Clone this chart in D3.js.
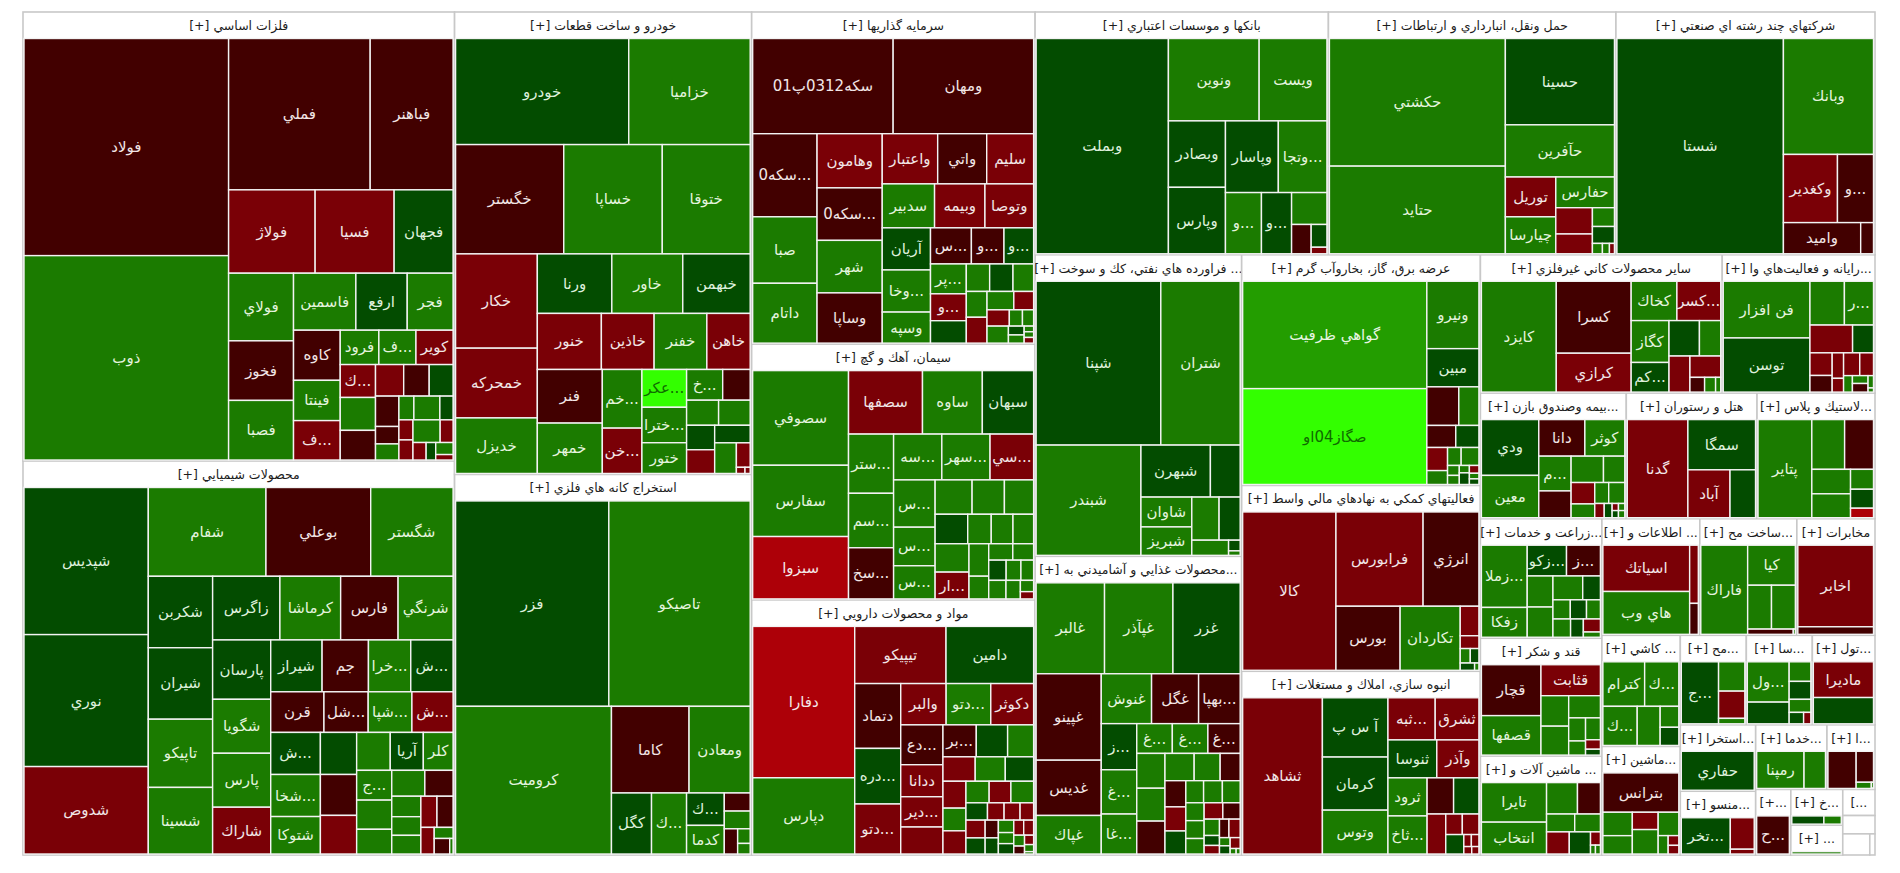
<!DOCTYPE html>
<html lang="fa">
<head>
<meta charset="utf-8">
<title>Market map</title>
<script src="https://cdn.jsdelivr.net/npm/d3@7/dist/d3.min.js"></script>
<style>
html,body{margin:0;padding:0;background:#fff;overflow:hidden}
svg{display:block}
text{font-family:"DejaVu Sans",sans-serif;direction:rtl;text-anchor:middle;dominant-baseline:central}
</style>
</head>
<body>
<svg id="chart" width="1900" height="873"></svg>
<script>
const sectorNames = [
"فلزات اساسي [+]","محصولات شيميايي [+]","خودرو و ساخت قطعات [+]","استخراج كانه هاي فلزي [+]",
"سرمايه گذاريها [+]","سيمان، آهك و گچ [+]","مواد و محصولات دارويي [+]","بانكها و موسسات اعتباري [+]",
"حمل ونقل، انبارداري و ارتباطات [+]","شركتهاي چند رشته اي صنعتي [+]","... فراورده هاي نفتي، كك و سوخت [+]","...محصولات غذايي و آشاميدني به [+]",
"عرضه برق، گاز، بخاروآب گرم [+]","فعاليتهاي كمكي به نهادهاي مالي واسط [+]","انبوه سازي، املاك و مستغلات [+]","ساير محصولات كاني غيرفلزي [+]",
"...رايانه و فعاليت‌هاي وا [+]","...بيمه وصندوق بازن [+]","هتل و رستوران [+]","...لاستيك و پلاس [+]",
"...زراعت و خدمات [+]","... اطلاعات و [+]","...ساخت مح [+]","مخابرات [+]",
"قند و شكر [+]","... ماشين آلات و [+]","... كاشي [+]","...ماشين [+]",
"...مح [+]","...سا [+]","...تول [+]","...استخرا [+]",
"...منسو [+]","...خدما [+]","...ا [+]","...+]","...خ [+]","... [+]","...]","","",""
];
const sectorValues = [1935,1698,1372,1129,940,724,722,711,697,628,622,616,550,443,438,334,211,183,164,148,145,114,113,91,143,120,87,85,59,59,56,50,48,46,31,23,18.5,15.5,8.4,5.9,5.7,1.1];

const tileLabels = [
["فولاد","ذوب","فملي","فباهنر","فولاژ","فسيا","فجهان","فولاي","فخوز","فصبا","فاسمين","ارفع","فجر","كاوه","فينتا","...ف","فرود","...ف","كوير","...ك"],
["شپديس","نوري","شدوص","شفام","بوعلي","شگستر","شكربن","شيران","تاپيكو","شسينا","زاگرس","كرماشا","فارس","شرنگي","پارسان","شگويا","پارس","شاراك","شيراز","جم","...خرا","...ش","قرن","...شل","...شپا","...ش","...ش","...شخا","شتوكا","","","","","آريا","كلر","...ج"],
["خودرو","خزاميا","خگستر","خساپا","ختوقا","خكار","خمحركه","خديزل","ورنا","خاور","خبهمن","خنور","خاذين","خفنر","خاهن","فنر","خمهر","...خم","...خن","...عكر","...خترا","ختور","...خ"],
["فزر","تاصيكو","كروميت","كاما","ومعادن","كگل","...ك","...ك","كدما"],
["سكه0312پ01","ومهان","...سكه0","صبا","داتام","وهامون","...سكه0","شهر","وساپا","واعتبار","واتي","سليم","سدبير","وبيمه","وتوصا","آريان","...وخا","وسپه","...س","...و","...و","...پر","...و"],
["سصوفي","سفارس","سبزوا","سصفها","ساوه","سبهان","...ستر","...سم","...سخ","...سه","...سهر","...سي","...س","...س","...س","","","","","","","","","...ار"],
["دفارا","دپارس","تيپيكو","دامين","دتماد","...دره","...دتو","والبر","...دتو","دكوثر","...دع","ددانا","...دير","","...بر"],
["وبملت","ونوين","ويست","وبصادر","وپارس","وپاسار","...وتجا","...و","...و"],
["حكشتي","حتايد","حسينا","حآفرين","توريل","چيارسا","حفارس"],
["شستا","وبانك","وكغدير","...و","واميد"],
["شپنا","شتران","شبندر","شبهرن","","شاوان","شبريز"],
["غالبر","غپآذر","غزر","غپينو","غديس","غپاك","غنوش","غگل","...بهپا","...ز","...غ","...غا","...غ","...غ","...غ"],
["گواهي ظرفيت","صگاز04او","ونيرو","مبين"],
["كالا","فرابورس","انرژي","بورس","تكاردان"],
["ثشاهد","آ س پ","كرمان","وتوس","...ثبه","ثشرق","ثنوسا","وآذر","ثرود","...ثاخ"],
["كايزد","كسرا","كرازي","كخاك","...كسر","كگاز","...كم"],
["فن افزار","توسن","","...ر"],
["ودي","معين","دانا","كوثر","...م"],
["گدنا","سمگا","آباد"],
["پتاير"],
["...زملا","زفكا","...زكو","...ز"],
["اسياتك","هاي وب"],
["فاراك","كيا"],
["اخابر"],
["قچار","قصفها","قثابت"],
["تايرا","انتخاب"],
["كترام","...ك","...ك"],
["بترانس"],
["...ج"],
["...ول"],
["ماديرا"],
["حفاري"],
["...تخر"],
["رمپنا"],
[],
["...ح"],
[],[],[],[],[],[]
];
const tileValues = [
[425,400,205,120,69,63,47,42,37,37,34,28,25,22.4,18,17.6,12.7,12.2,12.2,11.1,11.1,10,8.5,7.7,7.2,6.8,3.9,3.6,3.4,5.9,3,2.7,2.7,5.9,2.8,2.2,1.6,2,0.9],
[175,157,104,100,89,70,44,44,42,41,41,37,35,33.5,33,30,30,26,25.5,23,21,21,20.7,17.2,17,16,20,20,17.8,14.6,14.2,13.4,12.2,12,10.8,10,9.8,8.3,8.2,7,5.7,5.2,5.2,4.8,4.8,3.4,2,2.3,0.5],
[174,122,112,102,91,73,54,43,42,40,38,34,28,28,23,33,31,22,17,16,15,13,10.5,8,7.6,7.5,6.5,6.3,5.9,6.3,3.2,0.5,0.3],
[309,285,226,66,52,24,21,12,10.6,4.6,4.5,3.3,1.8,1.3],
[125,125,50,40,36,33,32,32,30.6,26,23,22,21.5,20.7,20,19,19,14,13.8,11,10,10,9,7.5,6,6,5.3,5,5,4.6,3.4,3.4,2,1.7,3.4,1.3,1.2,0.5,0.5,0.5],
[85,64,56,44,35.6,30.5,25,23,21.6,20.7,20.7,18.7,18.4,15,12.9,11.9,10.4,9.4,9,6.5,6,5.7,9,8.5,6,4.2,3.7,3.2,3.3,2.8,2.4,3,2.5,1.4,0.9],
[145,73,49,47,28,24,21.6,17.6,17.3,16.6,15.8,12.7,12,10.7,10,9.4,7.8,7.4,6.9,6.5,5.8,4.9,5,4.7,4.4,4.6,3.5,2.7,2.6,2.2,3.2,2.9,2.2,2,1.8,1.6,1.5,1.4,1.4,1.1,0.8,0.8,0.6,0.2],
[278,73,54.5,37,37,37,34,21.5,18,11,5.6,3.5,1],
[217,149,91,55,19.4,18,17.4,9.3,7,4,3.6,1,0.7,0.5],
[350,102,36,24,23.5,3.9],
[198,126,112,35,15,14.7,14,11.4,8.8,5.4,1.2,0.5],
[57,57,56,51.6,33,23,23,21.5,19,15,14.4,13,9.7,9.7,8.8,9,8.5,8.5,7.3,6.5,5,5,4.6,4.4,3.6,3.8,3.6,3,3,2.6,2.8,2.6,2.3,1.4,1.2,1.6,1.9,0.8,0.8,1,0.3,0.2],
[186,166,33,18.7,11.6,7.3,6,4.8,4.5,2.7,2.3,3,1.1,1,0.7,1.1,0.7,0.5,0.5],
[142,79,50.6,39.5,37,5.3,2.3,1.4,1.2,1,0.3],
[117,36.5,32.7,27,18.7,17.3,17.4,15,14,14,9,8.6,7,3.2,3.2,3.3,0.85,0.85,0.55,0.5],
[77,50,27,16.7,16,14.7,10.4,10,7,7,6.1,2,1.5,0.7],
[44,42,13.5,11.4,10.6,5.2,4.5,3.3,2.6,1.4,3.3,2.8,1.3,1.1,1.2,0.6,0.2],
[28.5,21.6,15,13,10,7.7,7.6,5,4.5,2.9,2.6,3,1.2,1,0.4,0.4,0.4,0.4],
[56,32,19,11.5],
[48.5,15,13.2,8.7,8.5,4.2,4,2],
[25.7,12.3,10.9,9.4,7.2,7,6.4,3.8,3,2.8,2.4,2.9,2.1,2,0.8],
[37.5,34.7,4.7,2.5],
[38.7,17.7,9.7,9.7,2.2,0.1],
[58.5,5.4],
[28,21.7,17,7.8,7.4,6.5,3.6,2.2,3,1.3,0.8],
[23.6,19,8.9,6.6,4.6,4.2,4.6,4.3,1.2,0.4,0.4],
[17.6,14.4,12.7,8.5,3.7,3.2],
[26,6,4.7,3.9,5.5,4.2,1.6,0.9,0.8],
[21,7,6.5,1.3],
[14.3,7.7,3.6,3.3,2.4,1.4,0.7],
[20.4,15],
[28],
[15.6,6.6,1],
[14.8,6.7],
[7.8,4,0.7,0.1],
[13],
[2.4,1.3],
[1],
[0.15,0.15],
[],[],[]
];
const tileLevels = [
"aeaabbdeaeedeaebeebb eabadaaeeedbbebbdeb",
"ddbeae ddee deae deeb daed aaeb dee dab ede e eee a eee ba beae",
"deaeebbededbbeb aeebgeee aeedbdebbb",
"deeaededeaeaee",
"aaaeebaeabab ebbdeeaadeb dedeebebbeeedeeeb",
"eecbedeeaeebeee eeedeeeeb eeeedeeeeeb",
"cebdadbbebabbbadebed beb ebe dbbb bdadeedbbeabee",
"deedddeedeadb",
"eedebeebbedeeb",
"debaaa",
"deeddeeedede",
"eedaaeeaadeeeea eea eea abd eee eeeba edbabedbee",
"fgedaeadbeeeeeedbed",
"bbaaebbedde",
"bddebbdbeeadbbbdbbbb",
"eabebeddebbaee",
"edeebdbabbbbeeaee",
"deaeeaeebeeebdbede",
"bdbd",
"eeaeeedc",
"eedaeeededeedbe",
"beba",
"eeeeae",
"ba",
"aebeeeeeebd",
"eeeaeebdbee",
"eeeeed",
"aeebeeebb",
"debe",
"edededb",
"bd",
"d",
"dbb",
"ee",
"aaee",
"a",
"de",
"e",
"ab",
"","",""
];
// Row structure: n > 0 is a row of n tiles across the top,
// n < 0 a column of |n| tiles at the left; what remains is squarified.
const sectorRows = [
null,
[-3,3,-4,4,-4,4,4,-3,-3,3,-3,2,-3],
[2,3,-3,3,4,-2,-2,-3,2,2,-2,1],
null,
[2,-3,-4,3,3,-3,3,-3,3,-2,2,3],
[-3,3,-3,3,-3,3,4,-2,-2,2,3],
[-2,2,-3,3,-4,3,3,-3,3,4,-2,-2],
null,null,null,
[2,-1,2,-2,2],
[3,-3,3,-3,3,-3,3,-3,3,-3,2],
null,null,null,
[-1,-2,2,-2,2,-1,1],
null,null,null,null,
[-2,2,-2,2,3,-1,-1],
[-2,-2],
[-1,1,2],
null,
[-2,1,-2,1,-2],
[-2,2,2,-1,-1,1],
[2,-1,-1,-2],
null,null,null,null,null,null,null,null,null,null,null,null,null,null,null
];

const levelDomain = ["a","b","c","d","e","f","g"];
const levelFill = ["#420000","#7a0006","#ad0008","#034c00","#1b7b00","#239d00","#33ff00"];
const levelInk  = ["#f2e6e6","#f2e6e6","#f5e8e8","#dff0dc","#e4f4de","#e8f6e2","#0f6a00"];

const fill = d3.scaleOrdinal().domain(levelDomain).range(levelFill).unknown("#1b7b00");
const ink  = d3.scaleOrdinal().domain(levelDomain).range(levelInk).unknown("#e4f4de");

const frame = {x0:23, y0:12, x1:1875, y1:855};

const data = {children: sectorNames.map((name,i)=>{
  const vals = tileValues[i];
  const lv = tileLevels[i].replace(/\s/g,"");
  const sum = d3.sum(vals) || 1;
  const kids = vals.map((v,j)=>({label:(tileLabels[i][j]||""), value:v*sectorValues[i]/sum, level:lv[j]}));
  return kids.length ? {name, index:i, children:kids} : {name, index:i, value:sectorValues[i], empty:true};
})};

const root = d3.hierarchy(data).sum(d=>d.children?0:d.value)
  .sort((a,b)=> a.depth===1 ? b.value-a.value : 0);

const squarify = d3.treemapSquarify.ratio(1);
function tile(node,x0,y0,x1,y1){
  const spec = node.depth===1 ? sectorRows[node.data.index] : null;
  if(!spec){ squarify(node,x0,y0,x1,y1); return; }
  const kids = node.children;
  let i = 0, rem = node.value;
  for(const n of spec){
    const part = kids.slice(i,i+Math.abs(n));
    const v = d3.sum(part,d=>d.value);
    if(n>0){
      const h = (y1-y0)*v/rem;
      d3.treemapDice({children:part,value:v},x0,y0,x1,y0+h);
      y0 += h;
    } else {
      const w = (x1-x0)*v/rem;
      d3.treemapSlice({children:part,value:v},x0,y0,x0+w,y1);
      x0 += w;
    }
    rem -= v; i += part.length;
  }
  if(i<kids.length) squarify({children:kids.slice(i),value:rem},x0,y0,x1,y1);
}

d3.treemap()
  .size([frame.x1-frame.x0, frame.y1-frame.y0])
  .tile(tile)
  .paddingTop(d=>d.depth===1?26.5:0)
  .paddingLeft(d=>d.depth===1?1:0)
  .paddingRight(d=>d.depth===1?1.5:0)
  .paddingBottom(d=>d.depth===1?1:0)(root);

const svg = d3.select("#chart").append("g").attr("transform",`translate(${frame.x0},${frame.y0})`);

const sectors = svg.selectAll("g.sector").data(root.children).join("g").attr("class","sector");
sectors.append("rect")
  .attr("x",d=>d.x0).attr("y",d=>d.y0)
  .attr("width",d=>d.x1-d.x0).attr("height",d=>d.y1-d.y0)
  .attr("fill","#fff").attr("stroke","#c8c8c8").attr("stroke-width",1.6);
sectors.append("text")
  .attr("x",d=>(d.x0+d.x1)/2).attr("y",d=>d.y0+13.5)
  .attr("font-size",12.5).attr("fill","#1c1c1c")
  .text(d=>d.data.name);

const tiles = svg.selectAll("g.tile")
  .data(root.leaves().filter(d=>!d.data.empty && d.x1-d.x0>0.2 && d.y1-d.y0>0.2))
  .join("g").attr("class","tile");
tiles.append("rect")
  .attr("x",d=>d.x0).attr("y",d=>d.y0)
  .attr("width",d=>d.x1-d.x0).attr("height",d=>d.y1-d.y0)
  .attr("fill",d=>fill(d.data.level))
  .attr("stroke","#f3f3f3").attr("stroke-width",1.4);
tiles.filter(d=>d.data.label).append("text")
  .attr("x",d=>(d.x0+d.x1)/2).attr("y",d=>(d.y0+d.y1)/2)
  .attr("font-size",15).attr("fill",d=>ink(d.data.level))
  .text(d=>d.data.label);
</script>
</body>
</html>
